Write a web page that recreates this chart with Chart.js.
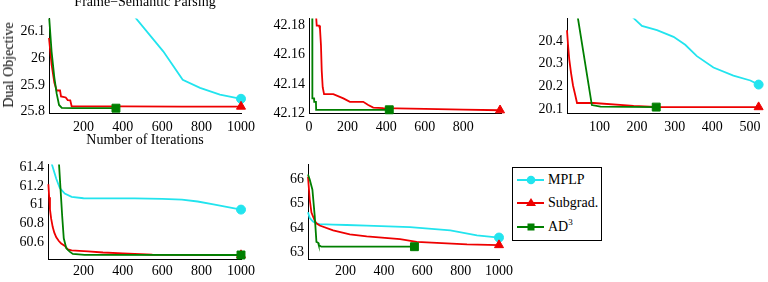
<!DOCTYPE html>
<html>
<head>
<meta charset="utf-8">
<script src="https://cdn.jsdelivr.net/npm/chart.js@4"></script>
<style>
  html, body { margin: 0; padding: 0; background: #fff; }
  #wrap { position: relative; width: 768px; height: 282px; overflow: hidden; background: #fff;
          font-family: 'Liberation Serif', 'Times New Roman', serif; color: #000; }
  canvas { position: absolute; }
  .txt { position: absolute; font-size: 14px; line-height: 14px; white-space: nowrap; }
  #legend { position: absolute; left: 512px; top: 167px; width: 88px; height: 72px; border: 1px solid #000; background: #fff; }
  .row { position: absolute; left: 0; height: 14px; }
  .row svg { position: absolute; left: 4px; top: -1px; }
  .row span { position: absolute; left: 35px; top: 0; font-size: 14px; line-height: 14px; white-space: nowrap; }
</style>
</head>
<body>
<div id="wrap">
  <canvas id="c1"></canvas>
  <canvas id="c2"></canvas>
  <canvas id="c3"></canvas>
  <canvas id="c4"></canvas>
  <canvas id="c5"></canvas>
  <div class="txt" style="left:145px; top:-5px; transform:translateX(-50%);">Frame−Semantic Parsing</div>
  <div class="txt" style="left:145px; top:133px; transform:translateX(-50%);">Number of Iterations</div>
  <div class="txt" style="left:9px; top:65px; transform:translate(-50%,-50%) rotate(-90deg);">Dual Objective</div>
  <div id="legend">
    <div class="row" style="top:5px;">
      <svg width="28" height="16"><line x1="0" y1="8" x2="27" y2="8" stroke="#22e4ee" stroke-width="2"/><circle cx="14" cy="8" r="4.3" fill="#22e4ee"/></svg>
      <span>MPLP</span>
    </div>
    <div class="row" style="top:28px;">
      <svg width="28" height="16"><line x1="0" y1="8" x2="27" y2="8" stroke="#ee0000" stroke-width="2"/><polygon points="14,3 19,11 9,11" fill="#ee0000"/></svg>
      <span>Subgrad.</span>
    </div>
    <div class="row" style="top:52px;">
      <svg width="28" height="16"><line x1="0" y1="8" x2="27" y2="8" stroke="#007f00" stroke-width="2"/><rect x="10.5" y="4.5" width="7" height="7" fill="#007f00"/></svg>
      <span>AD<sup style="font-size:9px; line-height:0; vertical-align:6px;">3</sup></span>
    </div>
  </div>
</div>
<script>
// ---------- Plot 1: Frame-Semantic Parsing ----------
const p1IterMPLP = [420, 467, 605, 704, 792, 893, 1000];
const p1ObjMPLP  = [26.19, 26.148, 26.025, 25.919, 25.889, 25.864, 25.848];
const p1IterSub  = [25, 38, 52, 64, 81, 86, 110, 120, 133, 140, 400, 700, 1000];
const p1ObjSub   = [26.075, 25.976, 25.909, 25.879, 25.879, 25.857, 25.853, 25.843, 25.842, 25.820, 25.820, 25.819, 25.819];
const p1IterAD3  = [25, 38, 52, 64, 76, 90, 150, 365];
const p1ObjAD3   = [26.16, 26.025, 25.928, 25.867, 25.825, 25.814, 25.813, 25.813];
const p1XTicks = [200, 400, 600, 800, 1000];
const p1YTicks = [25.8, 25.9, 26, 26.1];

// ---------- Plot 2 ----------
const p2IterSub = [35, 40, 52, 57, 62, 66, 71, 78, 126, 178, 212, 281, 307, 333, 385, 600, 800, 990];
const p2ObjSub  = [42.19, 42.18, 42.18, 42.1777, 42.1667, 42.1489, 42.1377, 42.1329, 42.1329, 42.130, 42.1277, 42.1277, 42.1255, 42.1237, 42.1233, 42.1228, 42.1223, 42.1219];
const p2IterAD3 = [17, 17.5, 26, 27, 36, 37, 416];
const p2ObjAD3  = [42.19, 42.130, 42.130, 42.1277, 42.1277, 42.1222, 42.1222];
const p2XTicks = [0, 200, 400, 600, 800];
const p2YTicks = [42.12, 42.14, 42.16, 42.18];

// ---------- Plot 3 ----------
const p3IterMPLP = [185, 191, 213, 253, 297, 328, 359, 403, 456, 501, 523];
const p3ObjMPLP  = [20.51, 20.5, 20.466, 20.447, 20.418, 20.383, 20.333, 20.283, 20.247, 20.226, 20.208];
const p3IterSub  = [14, 16.7, 20, 24.6, 30, 36, 40.6, 84.7, 191, 262, 523];
const p3ObjSub   = [20.447, 20.383, 20.319, 20.261, 20.204, 20.161, 20.127, 20.127, 20.114, 20.109, 20.109];
const p3IterAD3  = [41, 43, 80, 103, 251];
const p3ObjAD3   = [20.52, 20.5, 20.118, 20.111, 20.109];
const p3XTicks = [100, 200, 300, 400, 500];
const p3YTicks = [20.1, 20.2, 20.3, 20.4];

// ---------- Plot 4 ----------
const p4IterMPLP = [35, 40, 62, 80, 105, 140, 200, 460, 600, 700, 780, 860, 1000];
const p4ObjMPLP  = [61.47, 61.434, 61.28, 61.18, 61.12, 61.085, 61.07, 61.068, 61.064, 61.055, 61.035, 61.005, 60.948];
const p4IterSub  = [22, 26, 30, 36, 44, 52, 62, 75, 87, 104, 121, 140, 180, 223, 299, 400, 550, 1000];
const p4ObjSub   = [61.22, 61.08, 60.95, 60.85, 60.76, 60.70, 60.65, 60.61, 60.584, 60.56, 60.52, 60.51, 60.505, 60.50, 60.487, 60.478, 60.465, 60.46];
const p4IterAD3  = [74, 76, 84, 92, 100, 113, 130, 146, 206, 1000];
const p4ObjAD3   = [61.5, 61.434, 61.157, 60.879, 60.64, 60.531, 60.496, 60.472, 60.462, 60.46];
const p4XTicks = [200, 400, 600, 800, 1000];
const p4YTicks = [60.6, 60.8, 61, 61.2, 61.4];

// ---------- Plot 5 ----------
const p5IterMPLP = [4, 13, 30, 48, 65, 135, 205, 310, 536, 746, 885, 1000];
const p5ObjMPLP  = [64.65, 64.42, 64.27, 64.2, 64.17, 64.148, 64.13, 64.108, 64.04, 63.908, 63.708, 63.616];
const p5IterSub  = [4, 13, 22, 39, 48, 65, 135, 222, 310, 484, 571, 833, 1000];
const p5ObjSub   = [66.108, 65.176, 64.64, 64.308, 64.2, 64.108, 63.908, 63.748, 63.668, 63.548, 63.44, 63.336, 63.308];
const p5IterAD3  = [4, 13, 27, 39, 48, 57, 60, 70, 74, 559];
const p5ObjAD3   = [66.2, 66.0, 65.576, 64.508, 63.44, 63.40, 63.31, 63.26, 63.24, 63.24];
const p5XTicks = [200, 400, 600, 800, 1000];
const p5YTicks = [63, 64, 65, 66];

const COL_MPLP = '#22e4ee', COL_SUB = '#ee0000', COL_AD3 = '#007f00';

Chart.defaults.font.family = "'Liberation Serif', 'Times New Roman', serif";
Chart.defaults.font.size = 14;
Chart.defaults.color = '#000';

function series(xs, ys, color, marker, radius, order) {
  const n = xs.length;
  return {
    data: xs.map((x, i) => ({ x: x, y: ys[i] })),
    borderColor: color,
    backgroundColor: color,
    borderWidth: 1.8,
    tension: 0,
    order: order,
    pointStyle: marker,
    pointRadius: ctx => ctx.dataIndex === n - 1 ? radius : 0,
    pointHoverRadius: 0,
    pointBackgroundColor: color,
    pointBorderColor: color,
    pointBorderWidth: 1,
    clip: { left: 2, top: 0, right: 12, bottom: 12 }
  };
}

const PADL = 50, PADT = 10, PADR = 24, PADB = 28;

function makePlot(id, box, xMin, xMax, xTicks, yMin, yMax, yTicks, xPad, datasets) {
  const cv = document.getElementById(id);
  const w = box.R - box.L + PADL + PADR;
  const h = box.B - box.T + PADT + PADB;
  cv.width = w; cv.height = h;
  cv.style.left = (box.L - PADL) + 'px';
  cv.style.top = (box.T - PADT) + 'px';
  cv.style.width = w + 'px';
  cv.style.height = h + 'px';
  new Chart(cv, {
    type: 'line',
    data: { datasets: datasets },
    options: {
      responsive: false,
      animation: false,
      devicePixelRatio: 1,
      layout: { padding: { left: 0, top: PADT, right: PADR, bottom: 0 } },
      plugins: { legend: { display: false }, tooltip: { enabled: false } },
      scales: {
        x: {
          type: 'linear', min: xMin, max: xMax,
          grid: { display: false, drawTicks: false },
          border: { display: true, color: '#000', width: 1 },
          ticks: { padding: xPad, autoSkip: false, maxRotation: 0, callback: v => String(v) },
          afterBuildTicks: s => { s.ticks = xTicks.map(v => ({ value: v })); },
          afterFit: s => { s.height = PADB; }
        },
        y: {
          type: 'linear', min: yMin, max: yMax,
          grid: { display: false, drawTicks: false },
          border: { display: true, color: '#000', width: 1 },
          ticks: { padding: 4, autoSkip: false, callback: v => String(v) },
          afterBuildTicks: s => { s.ticks = yTicks.map(v => ({ value: v })); },
          afterFit: s => { s.width = PADL; }
        }
      }
    }
  });
}

makePlot('c1', { L: 49, T: 16, R: 241, B: 113 }, 25, 1000, p1XTicks, 25.795, 26.148, p1YTicks, 6, [
  series(p1IterMPLP, p1ObjMPLP, COL_MPLP, 'circle', 4.5, 3),
  series(p1IterSub, p1ObjSub, COL_SUB, 'triangle', 5.2, 2),
  series(p1IterAD3, p1ObjAD3, COL_AD3, 'rect', 5.6, 1)
]);

makePlot('c2', { L: 309, T: 16, R: 501, B: 113 }, 0, 995, p2XTicks, 42.12, 42.1849, p2YTicks, 6, [
  series(p2IterSub, p2ObjSub, COL_SUB, 'triangle', 5.2, 2),
  series(p2IterAD3, p2ObjAD3, COL_AD3, 'rect', 5.6, 1)
]);

makePlot('c3', { L: 567, T: 16, R: 759, B: 113 }, 14, 524, p3XTicks, 20.083, 20.499, p3YTicks, 6, [
  series(p3IterMPLP, p3ObjMPLP, COL_MPLP, 'circle', 4.5, 3),
  series(p3IterSub, p3ObjSub, COL_SUB, 'triangle', 5.2, 2),
  series(p3IterAD3, p3ObjAD3, COL_AD3, 'rect', 5.6, 1)
]);

makePlot('c4', { L: 48, T: 162, R: 241, B: 259 }, 20, 1000, p4XTicks, 60.417, 61.434, p4YTicks, 4, [
  series(p4IterMPLP, p4ObjMPLP, COL_MPLP, 'circle', 4.5, 3),
  series(p4IterSub, p4ObjSub, COL_SUB, 'triangle', 5.2, 2),
  series(p4IterAD3, p4ObjAD3, COL_AD3, 'rect', 5.6, 1)
]);

makePlot('c5', { L: 308, T: 162, R: 499, B: 259 }, 4, 1000, p5XTicks, 62.736, 66.616, p5YTicks, 4, [
  series(p5IterMPLP, p5ObjMPLP, COL_MPLP, 'circle', 4.5, 3),
  series(p5IterSub, p5ObjSub, COL_SUB, 'triangle', 5.2, 2),
  series(p5IterAD3, p5ObjAD3, COL_AD3, 'rect', 5.6, 1)
]);
</script>
</body>
</html>
